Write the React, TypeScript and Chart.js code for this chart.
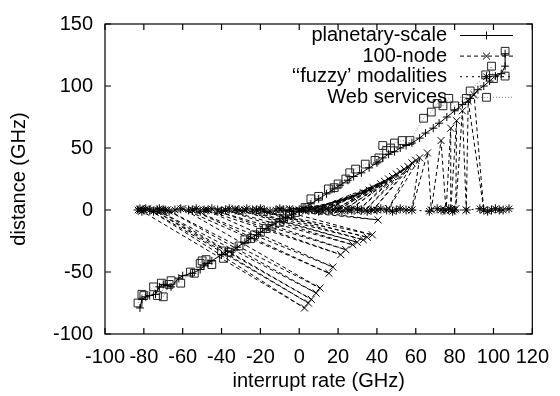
import React, { useEffect, useRef } from "react";
import { Chart, registerables } from "chart.js";
import { drawPoint } from "chart.js/helpers";

Chart.register(...registerables);

const FONT = '"Liberation Sans", Arial, Helvetica, sans-serif';
const FS = 20;

// tick labels
const xTickValues = [-100, -80, -60, -40, -20, 0, 20, 40, 60, 80, 100, 120];
const yTickValues = [-100, -50, 0, 50, 100, 150];

// series labels
const seriesLabels = ["planetary-scale", "100-node", "\u2018\u2018fuzzy\u2019 modalities", "Web services"];

// planetary-scale
const planetaryX = [-82, -81, -79, -77, -74, -72, -70, -68, -66, -62, -60, -55, -51, -49, -47, -45, -40, -37, -35, -32, -28, -25, -22, -20, -17, -14, -10, -7, -4, 0, 3, 6, 10, 14, 18, 21, 25, 28, 32, 36, 40, 43, 46, 49, 52, 55, 58, 62, 65, 69, 72, 76, 80, 84, 88, 92, 95, 98, 101, 104, 106, 106];
const planetaryY = [-79, -72, -70, -69, -68, -62, -60, -61, -62, -55, -53, -51, -48, -45, -43, -41, -36, -33, -34, -30, -26, -23, -20, -18, -15, -12, -9, -6, -4, -1, 2, 5, 9, 13, 17, 20, 24, 27, 30, 34, 38, 42, 45, 47, 50, 52, 54, 58, 62, 66, 70, 75, 80, 85, 90, 97, 100, 104, 108, 110, 116, 126];

// 100-node
const nodeX = [-82, 2.7, -78, 4.7, -75, 6.2, -72, 8.7, -68, 10.7, -60, 15.3, -55, 17.3, -48, 21.4, -42, 24, -38, 27.5, -33, 29.8, -28, 33, -22, 35, -18, 37.6, -10, 40.6,
  -5, 20, 0, 28, 3, 36, 5, 33, 8, 44, 10, 38, 12, 48, 14, 42, 18, 52, 20, 46, 24, 56, 26, 50, 30, 54, 34, 60, 38, 58, 46, 62,
  58, 66, 68, 73, 75.6, 78, 78, 81, 80.6, 84, 86, 87, 95, 90];
const nodeY = [0, -79, 1, -75, 0, -72, -1, -67, 0, -63, 1, -51, 0, -46, 0, -36, -1, -32, 0, -28, 1, -26, 0, -24, 0, -22, -1, -20, 0, -8,
  1, 5, 0, 10, -1, 16, 0, 14, 1, 23, 0, 18, -1, 27, 1, 21, 0, 31, 0, 25, 1, 35, 0, 29, -1, 33, 0, 40, 0, 38, 1, 42,
  0, 46, 0, 56, -1, 66, 0, 72, 1, 80, 0, 88, 0, 93];

// 'fuzzy' modalities
const fuzzyX = [-83, -82, -81, -80, -79, -77, -75, -73, -72, -70, -69, -67, -64, -61, -57, -55, -53, -51, -49, -47, -45, -42, -40, -38, -36, -33, -31, -29, -27, -24, -22, -20, -18, -15, -12, -10, -8, -5, -3, 0, 2, 5, 8, 10, 12, 15, 17, 20, 22, 25, 27, 30, 32, 35, 37, 40, 42, 45, 48, 50, 52, 55, 58, 67, 71, 73, 75, 77, 79, 80, 86, 93, 95, 97, 99, 101, 103, 105, 108];
const fuzzyY = [0, 1, -1, 0, 1, 0, -1, 0, 1, 0, 0, -1, 0, 1, 0, 0, 1, -1, 0, 0, 1, 0, -1, 0, 1, 0, 0, -1, 1, 0, 0, 1, 0, -1, 0, 1, 0, 0, -1, 0, 1, 0, 0, -1, 1, 0, 0, 1, -1, 0, 0, 1, 0, -1, 0, 0, 1, 0, -1, 0, 1, 0, 0, -1, 1, 0, 0, 1, -1, 0, 0, 1, 0, -1, 0, 1, 0, 0, 1];

// Web services
const webX = [-83, -81, -80, -75, -73, -71, -70, -67, -66, -61, -56, -54, -51, -50, -48, -45, -40, -39, -36, -31, -28, -25, -23, -20, -17, -14, -10, -8, -5, -2, 3, 6, 10, 15, 18, 20, 24, 26, 29, 34, 39, 41, 43, 45, 47, 49, 53, 57, 64, 68, 71, 74, 77, 80, 86, 88, 96, 99, 100, 106, 106];
const webY = [-75, -68, -69, -62, -69, -59, -70, -60, -57, -59, -50, -51, -43, -41, -40, -44, -33, -39, -34, -29, -24, -23, -20, -18, -15, -13, -10, -7, -4, -2, 2, 9, 11, 17, 18, 21, 25, 30, 33, 37, 40, 42, 52, 48, 50, 54, 56, 56, 74, 79, 86, 84, 90, 84, 90, 96, 109, 116, 106, 108, 128];

const pts = (xs: number[], ys: number[]) => xs.map((x, i) => ({ x, y: ys[i] }));

const framePlugin = {
  id: "gnuframe",
  afterDatasetsDraw(chart: any) {
    const { ctx, chartArea: a, scales } = chart;
    ctx.save();
    ctx.setLineDash([]);
    ctx.strokeStyle = "#000";
    ctx.lineWidth = 1.2;
    ctx.strokeRect(a.left, a.top, a.right - a.left, a.bottom - a.top);
    const t = 6;
    ctx.beginPath();
    scales.x.ticks.forEach((tk: any) => {
      const px = scales.x.getPixelForValue(tk.value);
      ctx.moveTo(px, a.bottom);
      ctx.lineTo(px, a.bottom - t);
      ctx.moveTo(px, a.top);
      ctx.lineTo(px, a.top + t);
    });
    scales.y.ticks.forEach((tk: any) => {
      const py = scales.y.getPixelForValue(tk.value);
      ctx.moveTo(a.left, py);
      ctx.lineTo(a.left + t, py);
      ctx.moveTo(a.right, py);
      ctx.lineTo(a.right - t, py);
    });
    ctx.stroke();

    // key
    const textRight = 447;
    const x0 = 460;
    const x1 = 513;
    chart.data.datasets.forEach((ds: any, i: number) => {
      const y = 35.5 + i * 20.6;
      ctx.font = `${FS}px ${FONT}`;
      ctx.fillStyle = "#000";
      ctx.textAlign = "right";
      ctx.textBaseline = "middle";
      ctx.fillText(ds.label, textRight, y);
      ctx.strokeStyle = ds.borderColor;
      ctx.lineWidth = ds.borderWidth;
      ctx.setLineDash(ds.borderDash || []);
      ctx.beginPath();
      ctx.moveTo(x0, y);
      ctx.lineTo(x1, y);
      ctx.stroke();
      ctx.setLineDash([]);
      ctx.strokeStyle = ds.pointBorderColor;
      ctx.fillStyle = "rgba(0,0,0,0)";
      ctx.lineWidth = 1;
      drawPoint(ctx, { pointStyle: ds.pointStyle, radius: ds.pointRadius, rotation: 0, borderWidth: 1 }, (x0 + x1) / 2, y);
    });
    ctx.restore();
  },
};

export default function App() {
  const ref = useRef<HTMLCanvasElement>(null);
  useEffect(() => {
    if (!ref.current) return;
    const chart = new Chart(ref.current, {
      type: "scatter",
      data: {
        datasets: [
          {
            label: seriesLabels[0],
            data: pts(planetaryX, planetaryY),
            showLine: true,
            borderColor: "#000",
            borderWidth: 1,
            borderDash: [],
            pointStyle: "cross",
            pointRadius: 4,
            pointBorderColor: "#000",
            pointBackgroundColor: "rgba(0,0,0,0)",
            pointBorderWidth: 1,
          },
          {
            label: seriesLabels[1],
            data: pts(nodeX, nodeY),
            showLine: true,
            borderColor: "#000",
            borderWidth: 1,
            borderDash: [4, 3],
            pointStyle: "crossRot",
            pointRadius: 5,
            pointBorderColor: "#000",
            pointBackgroundColor: "rgba(0,0,0,0)",
            pointBorderWidth: 1,
          },
          {
            label: seriesLabels[2],
            data: pts(fuzzyX, fuzzyY),
            showLine: true,
            borderColor: "#000",
            borderWidth: 1,
            borderDash: [2, 4],
            pointStyle: "star",
            pointRadius: 4.5,
            pointBorderColor: "#000",
            pointBackgroundColor: "rgba(0,0,0,0)",
            pointBorderWidth: 1,
          },
          {
            label: seriesLabels[3],
            data: pts(webX, webY),
            showLine: true,
            borderColor: "#8a8a8a",
            borderWidth: 1,
            borderDash: [1, 2],
            pointStyle: "rect",
            pointRadius: 5.5,
            pointBorderColor: "#222",
            pointBackgroundColor: "rgba(0,0,0,0)",
            pointBorderWidth: 1,
          },
        ],
      },
      options: {
        responsive: false,
        animation: false,
        events: [],
        layout: { padding: { top: 19, right: 20, left: 0, bottom: 0 } },
        elements: { line: { tension: 0 } },
        plugins: { legend: { display: false }, tooltip: { enabled: false } },
        scales: {
          x: {
            type: "linear",
            min: -100,
            max: 120,
            afterBuildTicks: (s: any) => {
              s.ticks = xTickValues.map((v) => ({ value: v }));
            },
            afterFit: (s: any) => {
              s.height = 62;
            },
            ticks: {
              autoSkip: false,
              maxRotation: 0,
              padding: 11,
              color: "#000",
              font: { family: FONT, size: FS },
              callback: (v: any) => String(v),
            },
            grid: { display: false, drawTicks: false, tickLength: 0 },
            border: { display: false },
            title: {
              display: true,
              text: "interrupt rate (GHz)",
              color: "#000",
              font: { family: FONT, size: FS },
              padding: { top: 0, bottom: 3 },
            },
          },
          y: {
            type: "linear",
            min: -100,
            max: 150,
            afterBuildTicks: (s: any) => {
              s.ticks = yTickValues.map((v) => ({ value: v }));
            },
            afterFit: (s: any) => {
              s.width = 105;
            },
            ticks: {
              autoSkip: false,
              padding: 12,
              color: "#000",
              font: { family: FONT, size: FS },
              callback: (v: any) => String(v),
            },
            grid: { display: false, drawTicks: false, tickLength: 0 },
            border: { display: false },
            title: {
              display: true,
              text: "distance (GHz)",
              color: "#000",
              font: { family: FONT, size: FS },
              padding: { top: 7, bottom: 0 },
            },
          },
        },
      },
      plugins: [framePlugin],
    });
    return () => chart.destroy();
  }, []);

  return (
    <div style={{ position: "fixed", left: 0, top: 0, width: 560, height: 396, background: "#fff" }}>
      <canvas ref={ref} width={560} height={396} style={{ display: "block", width: 560, height: 396 }} />
    </div>
  );
}
